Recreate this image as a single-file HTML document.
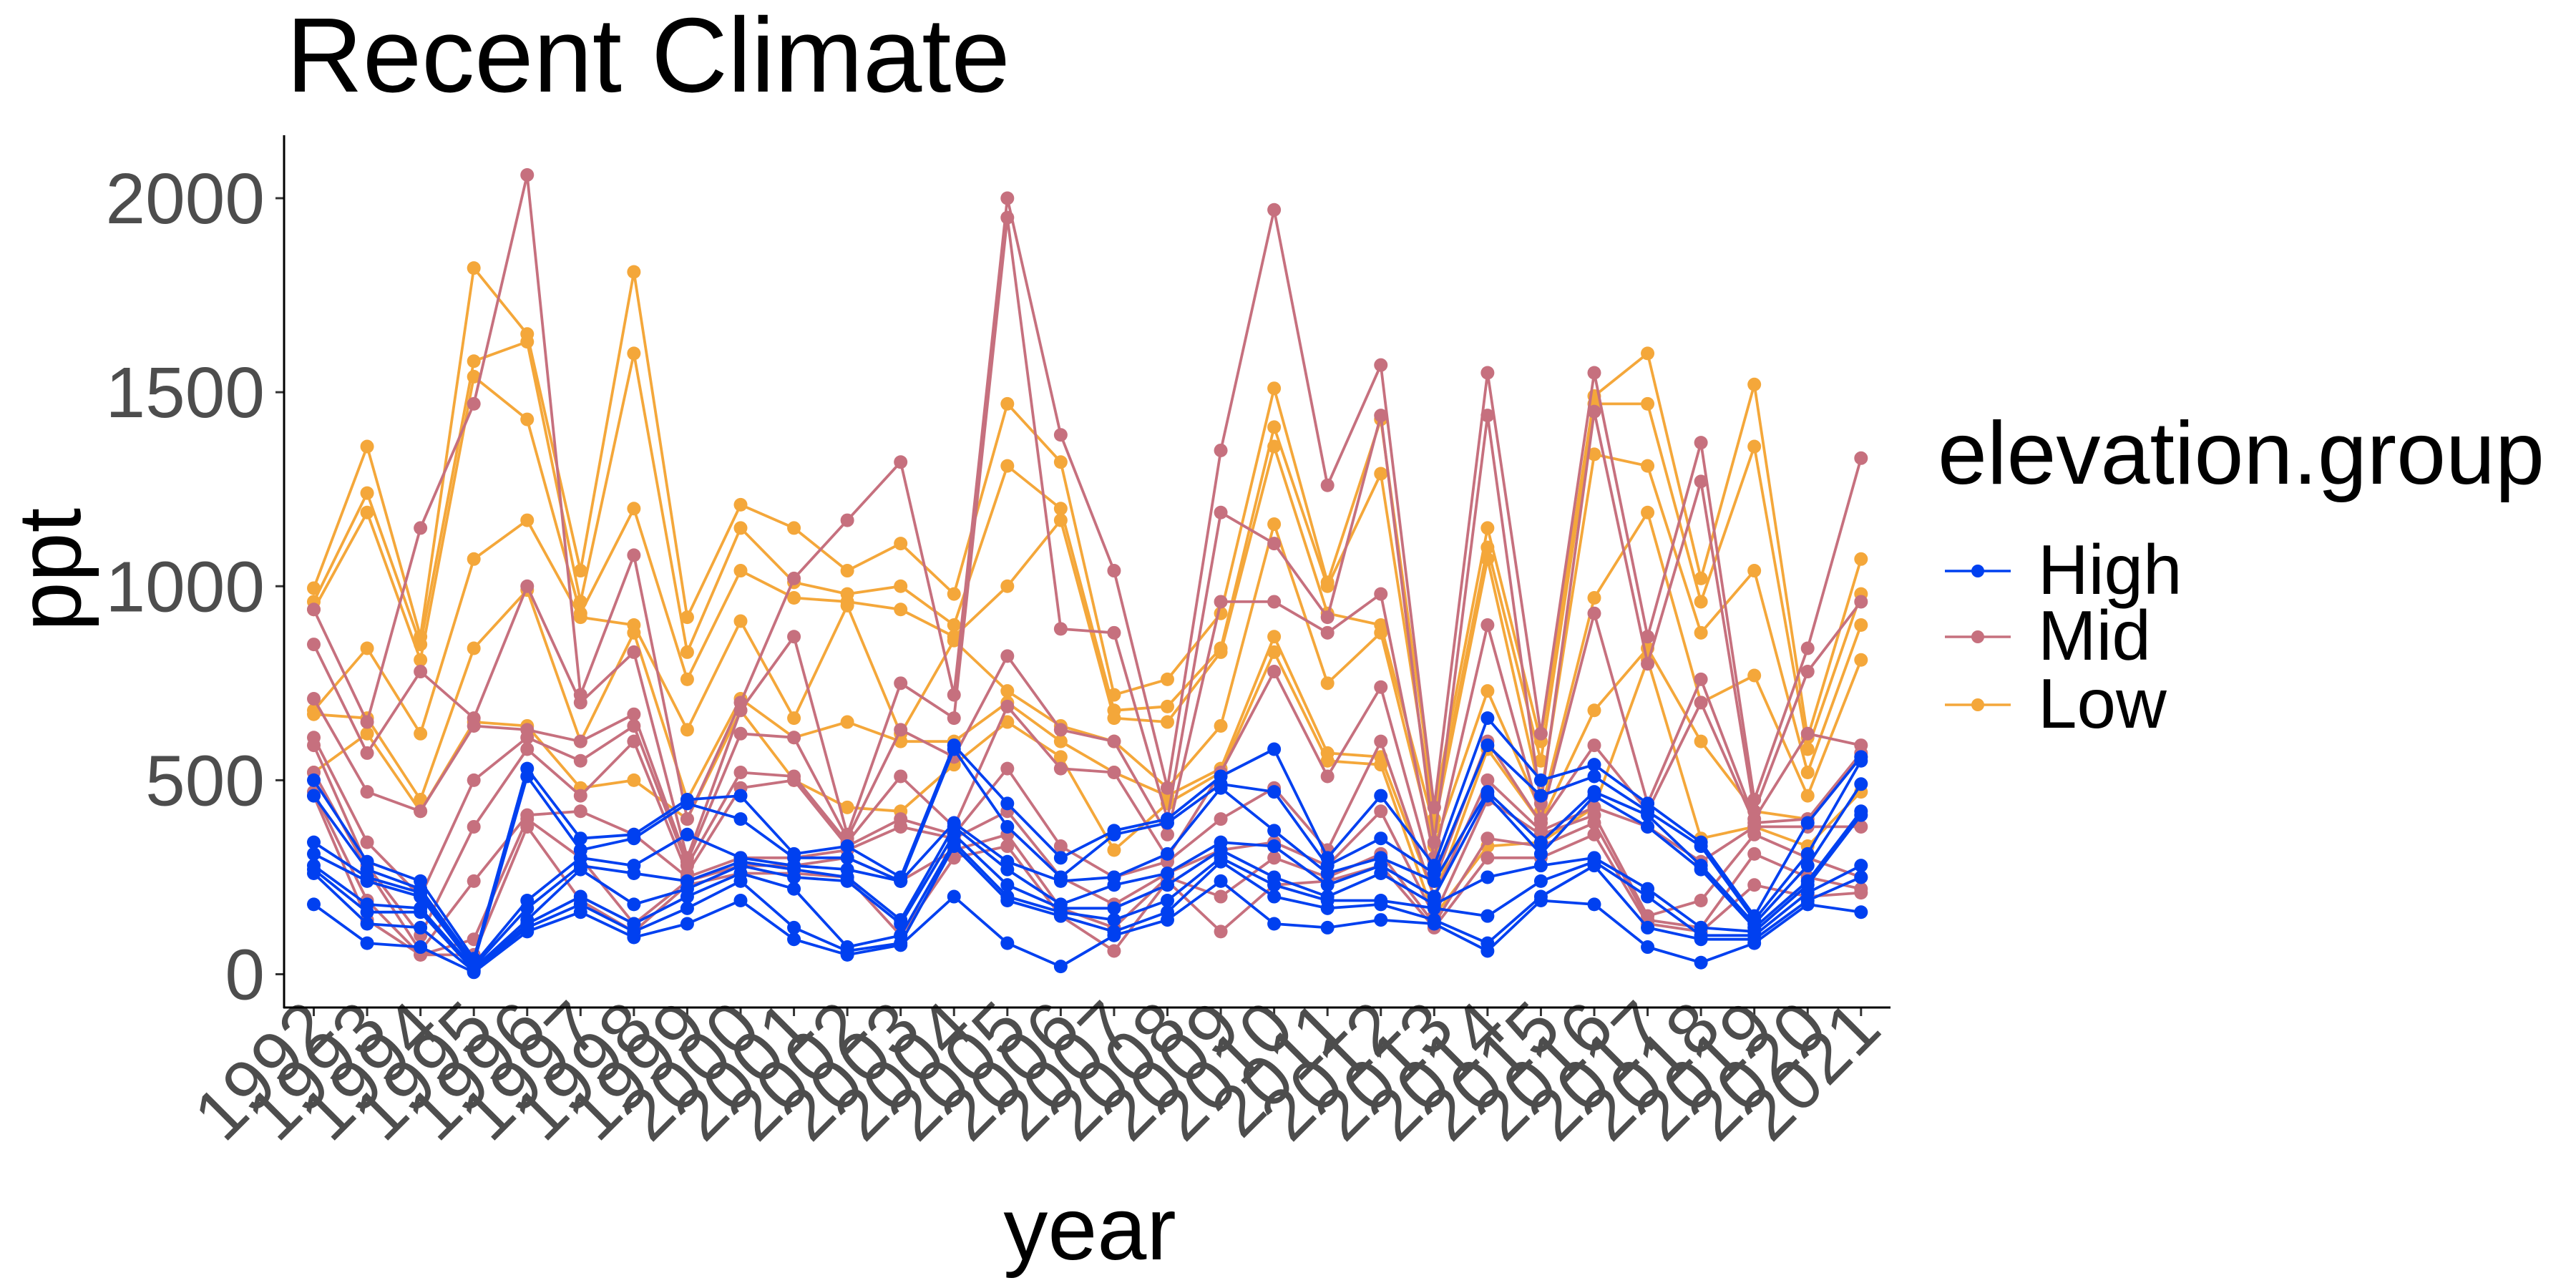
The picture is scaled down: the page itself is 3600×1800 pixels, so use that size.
<!DOCTYPE html>
<html><head><meta charset="utf-8"><style>
html,body{margin:0;padding:0;background:#fff;}
svg{display:block;font-family:"Liberation Sans",sans-serif;}
</style></head><body>
<svg id="chart" width="3600" height="1800" viewBox="0 0 3600 1800">
<text x="400" y="128" font-size="148" fill="#000">Recent Climate</text>
<g id="yticks"></g>
<g id="xticks"></g>
<g id="series"></g>
<line x1="397" y1="189" x2="397" y2="1409" stroke="#000" stroke-width="3"/>
<line x1="396" y1="1408" x2="2642" y2="1408" stroke="#000" stroke-width="3"/>
<text x="1523" y="1760" font-size="124" text-anchor="middle" fill="#000">year</text>
<text transform="translate(112,796) rotate(-90)" font-size="124" text-anchor="middle" fill="#000">ppt</text>
<g>
<text x="2708" y="676" font-size="124" fill="#000">elevation.group</text>
<g><line x1="2718" y1="798" x2="2810" y2="798" stroke="#0040f0" stroke-width="3.5"/><circle cx="2764" cy="798" r="9" fill="#0040f0"/><text x="2848" y="830" font-size="98" fill="#000">High</text></g>
<g><line x1="2718" y1="890" x2="2810" y2="890" stroke="#c6707e" stroke-width="3.5"/><circle cx="2764" cy="890" r="9" fill="#c6707e"/><text x="2848" y="922" font-size="98" fill="#000">Mid</text></g>
<g><line x1="2718" y1="985" x2="2810" y2="985" stroke="#f4a73a" stroke-width="3.5"/><circle cx="2764" cy="985" r="9" fill="#f4a73a"/><text x="2848" y="1017" font-size="98" fill="#000">Low</text></g>
</g>
</svg>
<script>
const years=[1992,1993,1994,1995,1996,1997,1998,1999,2000,2001,2002,2003,2004,2005,2006,2007,2008,2009,2010,2011,2012,2013,2014,2015,2016,2017,2018,2019,2020,2021];
const yTicks=[0,500,1000,1500,2000];
const lowByYear=[[995,960,940,680,670,520],[1360,1240,1190,840,660,620],[870,850,810,620,450,420],[1820,1580,1540,1070,840,650],[1650,1630,1430,1170,990,640],[1040,960,930,920,600,480],[1810,1600,1200,900,880,500],[920,830,760,630,450,400],[1210,1150,1040,910,710,680],[1150,1010,970,660,610,500],[1040,980,960,950,650,430],[1110,1000,940,620,600,420],[980,900,870,860,600,540],[1470,1310,1000,730,700,650],[1320,1200,1170,640,600,560],[720,680,660,600,520,320],[760,690,650,480,460,440],[930,840,830,640,530,520],[1510,1410,1360,1160,870,830],[1010,1000,930,750,570,550],[1430,1290,900,880,560,540],[430,400,380,330,200,150],[1150,1100,1070,730,580,330],[600,550,460,420,390,340],[1490,1470,1340,970,680,430],[1600,1470,1310,1190,840,810],[1020,960,880,700,600,350],[1520,1360,1040,770,420,380],[610,580,520,460,400,330],[1070,980,900,810,560,470]];
const midByYear=[[940,850,710,610,590,520,470,460],[650,570,470,340,280,270,190,140],[1150,780,420,200,100,60,50,50],[1470,660,640,500,380,240,90,50],[2060,1000,630,610,580,410,400,380],[720,700,600,550,460,420,300,190],[1080,830,670,640,600,360,130,110],[400,300,290,280,260,250,240,230],[700,680,620,520,480,300,280,260],[1020,870,610,510,500,300,280,260],[1170,360,350,340,330,320,300,250],[1320,750,630,510,400,380,240,100],[720,660,560,380,360,350,320,300],[2000,1950,820,690,530,420,360,330],[1390,890,630,530,330,250,170,150],[1040,880,600,520,250,180,120,60],[480,400,360,300,290,260,250,240],[1350,1190,960,520,400,320,200,110],[1970,1110,960,780,480,340,300,230],[1260,920,880,510,320,280,250,240],[1570,1440,980,740,600,420,310,280],[430,340,300,240,200,150,130,120],[1550,1440,900,600,500,450,350,300],[620,440,400,390,370,360,330,300],[1550,1450,930,590,430,410,390,360],[870,800,440,420,380,150,140,130],[1370,1270,760,700,290,190,120,110],[450,420,400,390,380,360,310,230],[840,780,620,400,380,300,250,200],[1330,960,590,570,380,250,220,210]];
const highByYear=[[500,460,340,310,280,270,260,180],[290,270,250,240,180,160,130,80],[240,220,210,200,170,160,120,70],[40,30,25,20,15,10,8,5],[530,510,190,170,140,130,120,110],[350,320,300,280,270,200,180,160],[360,350,280,260,180,130,110,95],[450,440,360,240,220,200,170,130],[460,400,300,290,280,260,240,190],[310,300,280,270,250,220,120,90],[330,300,270,250,240,70,60,50],[250,240,240,140,130,100,80,75],[590,580,390,380,360,340,330,200],[440,380,290,270,230,200,190,80],[300,250,240,180,170,160,150,20],[370,360,250,230,170,140,110,100],[400,390,310,260,230,190,160,140],[510,490,480,340,320,300,290,240],[580,470,370,330,250,230,200,130],[300,280,260,230,200,190,170,120],[460,350,300,280,260,190,180,140],[280,260,240,200,180,170,140,130],[660,590,470,460,250,150,80,60],[500,460,340,310,280,240,200,190],[540,510,470,460,300,290,280,180],[440,420,410,380,220,200,120,70],[340,330,280,270,120,100,90,30],[150,140,130,120,110,100,90,80],[390,310,280,240,230,210,190,180],[560,550,490,420,410,280,250,160]];
const NS="http://www.w3.org/2000/svg";
function xs(yr){return 438.5+(yr-1992)*(2600.8-438.5)/29;}
function ys(v){return 1361.5-v*(1361.5-277)/2000;}
function mk(tag,attrs,parent){const e=document.createElementNS(NS,tag);for(const k in attrs)e.setAttribute(k,attrs[k]);parent.appendChild(e);return e;}
const yg=document.getElementById('yticks');
yTicks.forEach(t=>{
  const l=mk('line',{x1:385,x2:397,y1:ys(t),y2:ys(t),stroke:'#333','stroke-width':3},yg);
  
  
  const tx=mk('text',{x:370,y:ys(t)+35,'font-size':100,'text-anchor':'end',fill:'#4d4d4d'},yg);
  tx.textContent=t;
  
  
});
const xg=document.getElementById('xticks');
years.forEach(yr=>{
  const x=xs(yr);
  const l=mk('line',{x1:x,x2:x,y1:1408,y2:1420,stroke:'#333','stroke-width':3},xg);
  
  
  const tx=mk('text',{transform:`translate(${x+32},${1442}) rotate(-45)`,'font-size':100,'text-anchor':'end',fill:'#4d4d4d'},xg);
  tx.textContent=yr;
  
  
});
const sg=document.getElementById('series');
function drawGroup(byYear,color,name){
  const n=byYear[0].length;
  for(let s=0;s<n;s++){
    const pts=years.map((yr,i)=>xs(yr).toFixed(1)+','+ys(byYear[i][s]).toFixed(1)).join(' ');
    const pl=mk('polyline',{points:pts,fill:'none',stroke:color,'stroke-width':3.8,'stroke-linejoin':'round'},sg);
    
    
  }
  for(let s=0;s<n;s++){
    years.forEach((yr,i)=>{
      const c=mk('circle',{cx:xs(yr),cy:ys(byYear[i][s]),r:9.5,fill:color},sg);
      
      
    });
  }
}
drawGroup(lowByYear,'#f4a73a','low');
drawGroup(midByYear,'#c6707e','mid');
drawGroup(highByYear,'#0040f0','high');
</script>
</body></html>
